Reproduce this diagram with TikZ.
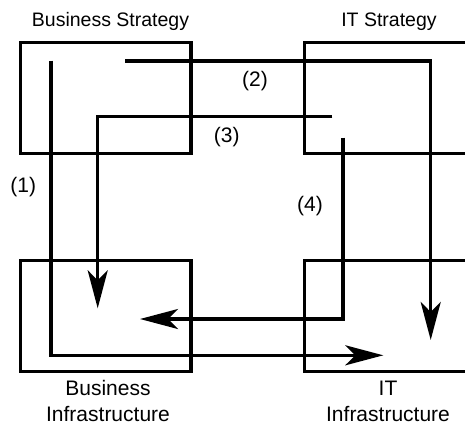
\documentclass[tikz,border=0pt]{standalone}
\usepackage{fontspec}
\setmainfont{Liberation Sans}
\usetikzlibrary{arrows.meta}
\tikzset{
  quad/.style={draw=black, line width=3.4pt, minimum width=170.5pt, minimum height=111.2pt, inner sep=0pt, outer sep=0pt},
  flow/.style={draw=black, line width=3.4pt, -{Stealth[length=38pt, width=20pt, inset=10pt]}},
  title/.style={font=\fontsize{19.5}{23}\selectfont, anchor=base, inner sep=0pt},
  caption/.style={font=\fontsize{21}{26.7}\selectfont, align=center, anchor=base, inner sep=0pt},
  tag/.style={font=\fontsize{21}{25}\selectfont, anchor=base, inner sep=0pt}
}
\begin{document}
\begin{tikzpicture}[x=1pt, y=-1pt]
  \useasboundingbox (0,0) rectangle (465,426);
  \clip (0,0) rectangle (465,426);

  % the four domains
  \node[quad] (bs) at (105.75,97.9) {};
  \node[quad] (its) at (389.75,97.9) {};
  \node[quad] (bi) at (105.75,316) {};
  \node[quad] (iti) at (389.75,316) {};

  % headings and captions (base anchor sits on the last line)
  \node[title] (tbs) at (110.5,26.7) {Business Strategy};
  \node[title] (tits) at (389,26.7) {IT Strategy};
  \node[caption] (tbi) at (108,421.7) {Business\\Infrastructure};
  \node[caption] (titi) at (388,421.7) {IT\\Infrastructure};

  % end points of the four alignment paths
  \coordinate (s1) at (51,60.7);
  \coordinate (c1) at (51,355.3);
  \coordinate (e1) at (383.3,355.3);
  \coordinate (s2) at (125,61);
  \coordinate (c2) at (430.7,61);
  \coordinate (e2) at (430.7,340);
  \coordinate (s3) at (332.3,116.3);
  \coordinate (c3) at (97.7,116.3);
  \coordinate (e3) at (97.7,308.3);
  \coordinate (s4) at (343,137.7);
  \coordinate (c4) at (343,319);
  \coordinate (e4) at (140,319);

  \draw[flow] (s1) -- (c1) -- (e1);
  \draw[flow] (s2) -- (c2) -- (e2);
  \draw[flow] (s3) -- (c3) -- (e3);
  \draw[flow] (s4) -- (c4) -- (e4);

  % path numbers
  \node[tag] (n1) at (23.3,192.5) {(1)};
  \node[tag] (n2) at (255,86) {(2)};
  \node[tag] (n3) at (226.7,142.5) {(3)};
  \node[tag] (n4) at (310,211) {(4)};
\end{tikzpicture}
\end{document}
